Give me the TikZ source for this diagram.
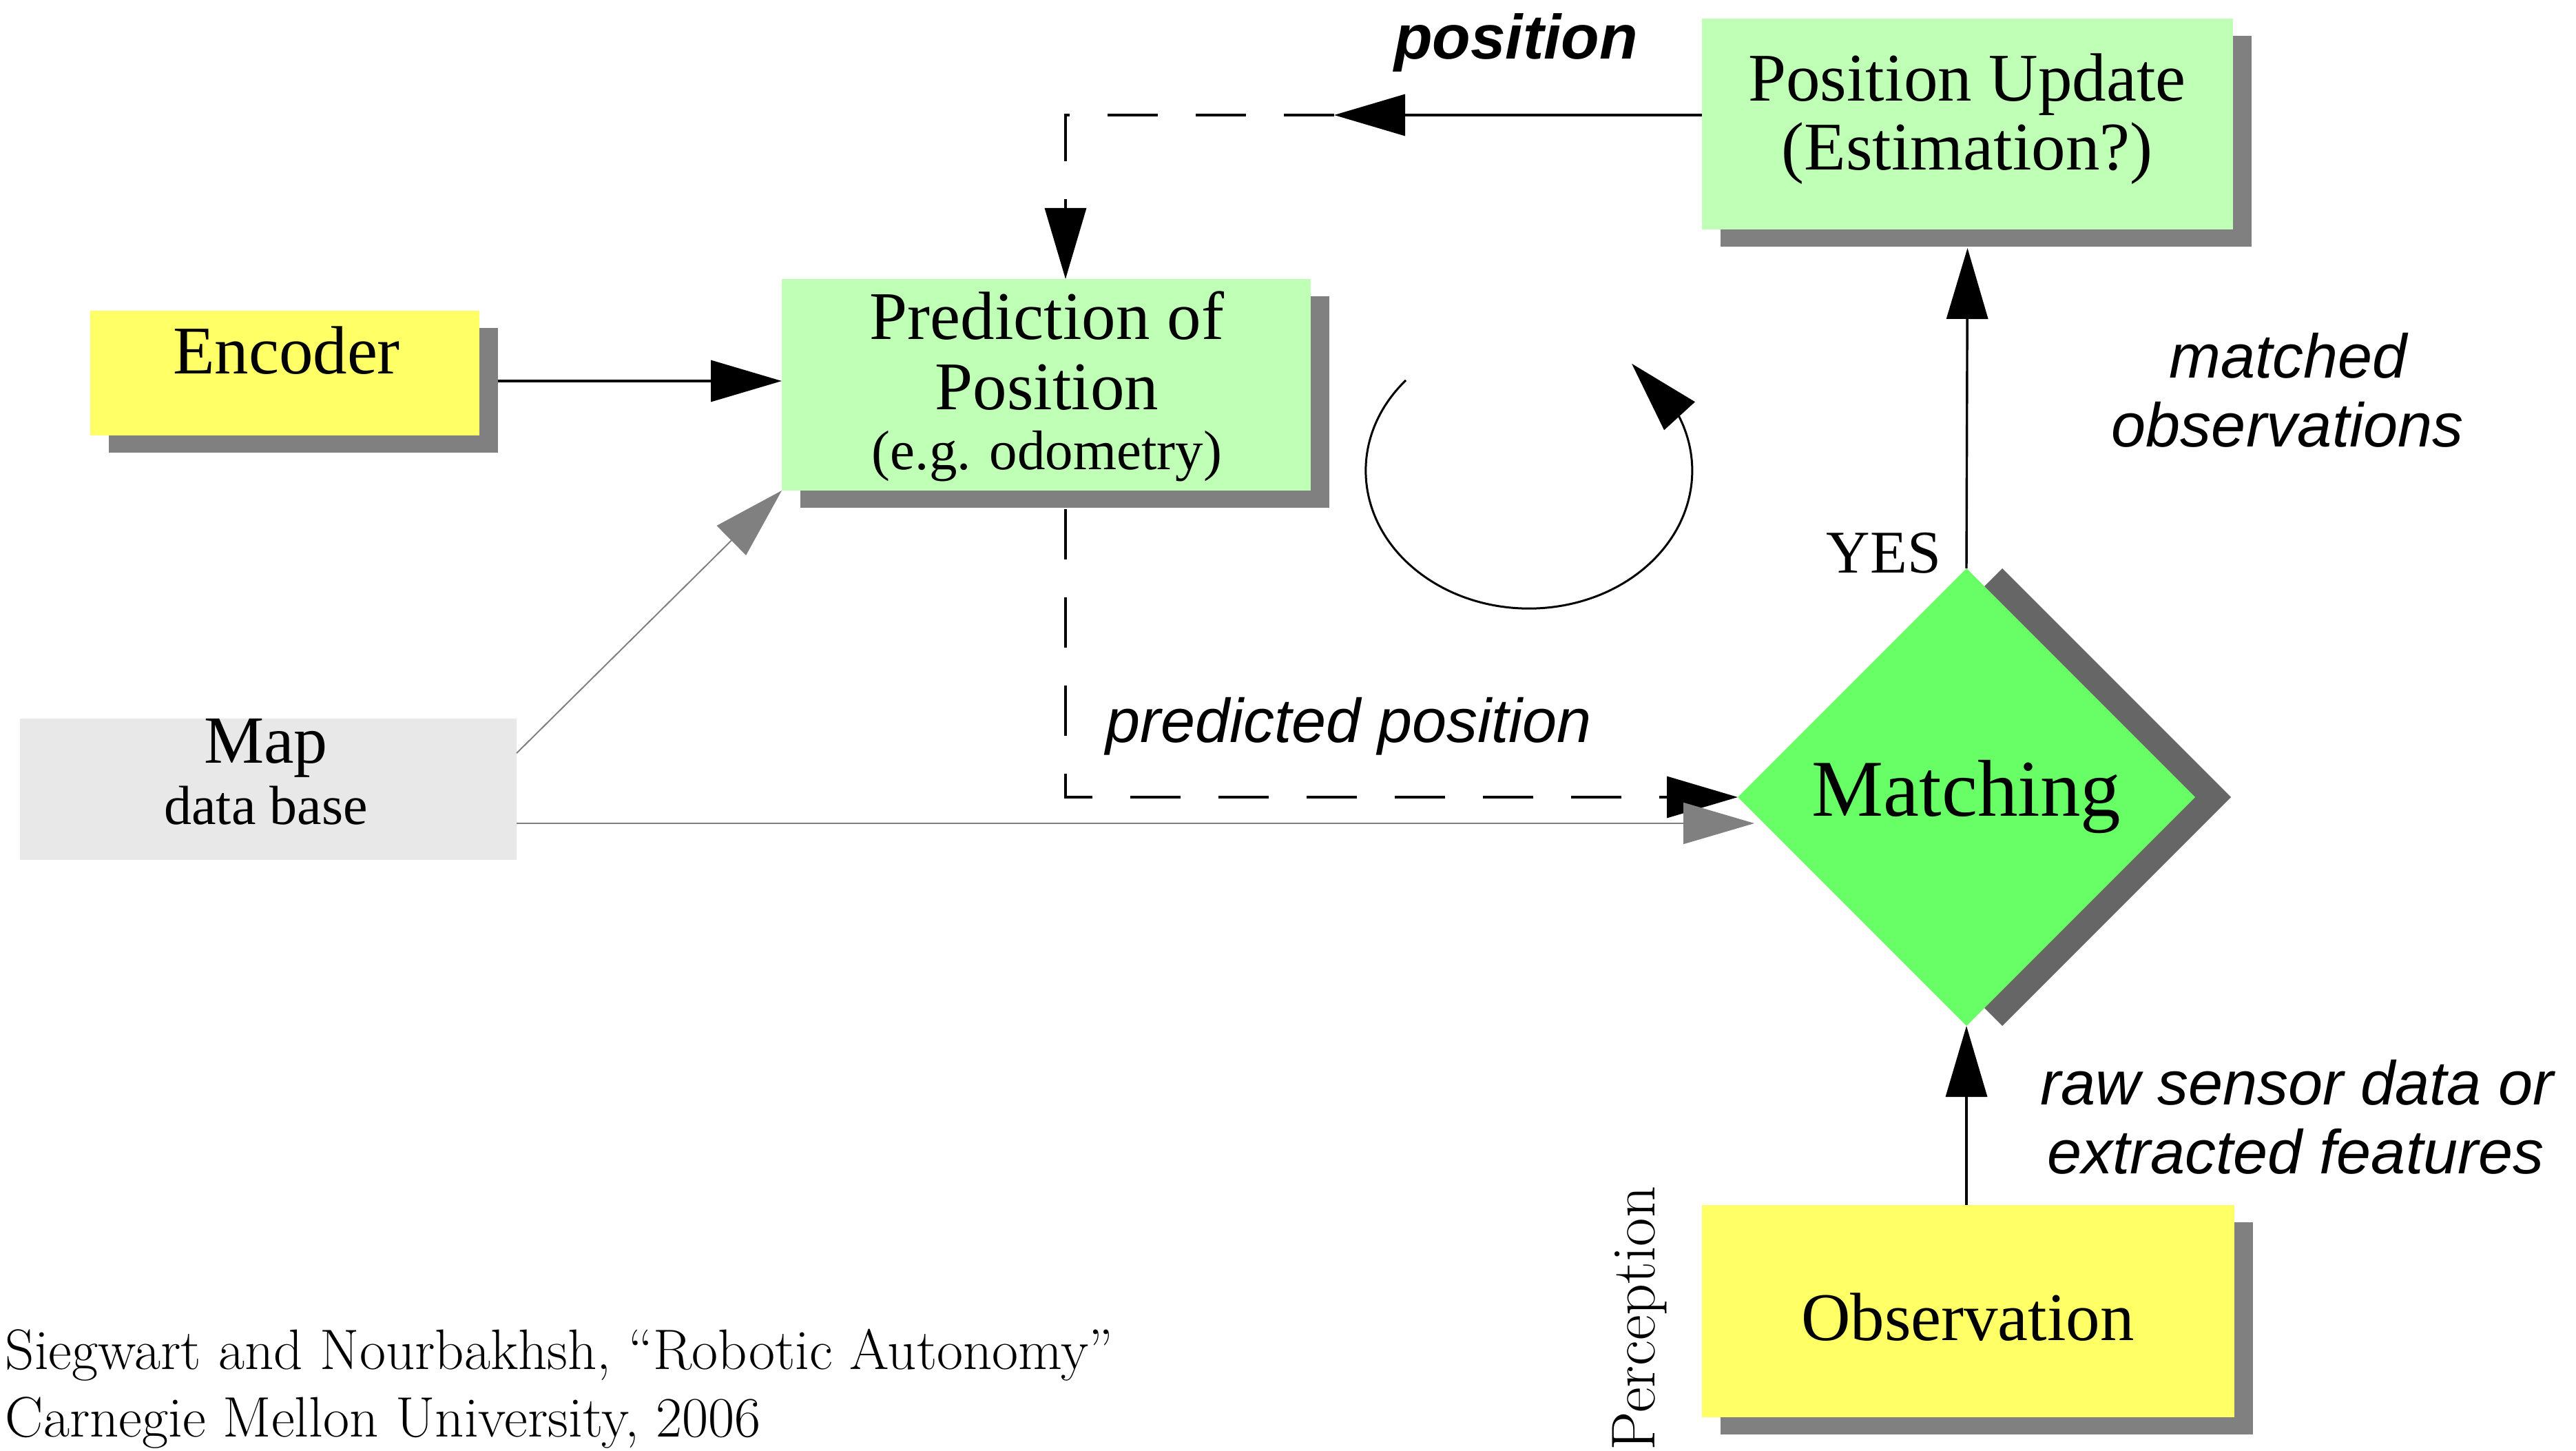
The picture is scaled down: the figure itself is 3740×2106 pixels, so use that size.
\documentclass[tikz,border=0pt]{standalone}
\usepackage{fontspec}
\newfontfamily\tms{Liberation Serif}
\newfontfamily\hsans{Liberation Sans}
\usetikzlibrary{arrows.meta,bending,shapes.geometric,shadows,calc}
\definecolor{boxgreen}{RGB}{191,255,182}
\definecolor{boxyellow}{RGB}{255,255,102}
\definecolor{matchgreen}{RGB}{104,255,102}
\definecolor{mapgray}{RGB}{232,232,232}
\definecolor{shadowgray}{RGB}{128,128,128}
\definecolor{dshadow}{RGB}{102,102,102}
\definecolor{arrowgray}{RGB}{128,128,128}
\begin{document}
\begin{tikzpicture}[x=0.25pt,y=-0.25pt,
  box/.style={rectangle, inner sep=0pt, outer sep=0pt,
    drop shadow={shadow xshift=6.75pt, shadow yshift=-6.25pt, fill=shadowgray, opacity=1}},
  greenbox/.style={box, fill=boxgreen},
  yellowbox/.style={box, fill=boxyellow},
  mapbox/.style={rectangle, inner sep=0pt, outer sep=0pt, fill=mapgray},
  matchnode/.style={diamond, aspect=1, inner sep=0pt, outer sep=0pt,
    minimum width=166pt, minimum height=166pt, fill=matchgreen,
    drop shadow={shadow xshift=13pt, shadow yshift=0pt, fill=dshadow, opacity=1},
    font=\tms\fontsize{29.25pt}{35pt}\selectfont},
  bigtxt/.style={inner sep=0pt, anchor=base, font=\tms\fontsize{24.75pt}{30pt}\selectfont},
  smalltxt/.style={inner sep=0pt, anchor=base, font=\tms\fontsize{20.25pt}{24pt}\selectfont},
  lbl/.style={inner sep=0pt, anchor=base, font=\hsans\itshape\fontsize{22.5pt}{27pt}\selectfont},
  captxt/.style={inner sep=0pt, anchor=base west, font=\fontsize{20.7pt}{24pt}\selectfont},
  conn/.style={line width=0.85pt, -{Triangle[length=25.75pt,width=15pt]}},
  grayconn/.style={draw=arrowgray, line width=0.5pt, -{Triangle[length=25.75pt,width=15pt]}},
  dashline/.style={dash pattern=on 18.25pt off 13.75pt},
  circarrow/.style={line width=0.75pt, -{Triangle[length=25.75pt,width=15pt,flex]}}
]
\useasboundingbox (0,0) rectangle (3740,2106);

% boxes
\node[yellowbox, minimum width=141.25pt, minimum height=45.25pt] (enc) at (413.5,541.5) {};
\node[bigtxt] (enct) at (416,543) {Encoder};

\node[greenbox, minimum width=192pt, minimum height=76.75pt] (pred) at (1519,558.5) {};
\node[bigtxt] (predt1) at (1520,493) {Prediction of};
\node[bigtxt] (predt2) at (1520,595) {Position};
\node[smalltxt] (predt3) at (1520,682) {(e.g. odometry)};

\node[greenbox, minimum width=192.75pt, minimum height=76.5pt] (pu) at (2856.5,180) {};
\node[bigtxt] (put1) at (2856,147) {Position Update};
\node[bigtxt] (put2) at (2856,247) {(Estimation?)};

\node[mapbox, minimum width=180.25pt, minimum height=51.25pt] (map) at (389.5,1145.5) {};
\node[bigtxt, font=\tms\fontsize{24.5pt}{30pt}\selectfont] (mapt1) at (386,1108) {Map};
\node[smalltxt, font=\tms\fontsize{20pt}{24pt}\selectfont] (mapt2) at (386,1197) {data base};

\node[matchnode] (match) at (2855,1157) {Matching};

\node[yellowbox, minimum width=193.25pt, minimum height=77pt] (obs) at (2857.5,1903) {};
\node[bigtxt] (obst) at (2857,1945) {Observation};

\node[inner sep=0pt, anchor=base, font=\tms\fontsize{22pt}{26pt}\selectfont] (yes) at (2735,832) {YES};

% labels
\node[lbl, font=\hsans\bfseries\itshape\fontsize{22.75pt}{27pt}\selectfont] (poslbl) at (2201,86) {position};
\node[lbl] (m1) at (3322,549) {matched};
\node[lbl] (m2) at (3321,649) {observations};
\node[lbl] (pp) at (1958,1078) {predicted position};
\node[lbl] (r1) at (3335,1603) {raw sensor data or};
\node[lbl] (r2) at (3333,1703) {extracted features};

\node[inner sep=0pt, anchor=base west, rotate=90, font=\fontsize{22.5pt}{26pt}\selectfont] (perc) at (2402,2106) {Perception};

\node[captxt] (cap1) at (7,1987) {Siegwart and Nourbakhsh, “Robotic Autonomy”};
\node[captxt] (cap2) at (7,2085) {Carnegie Mellon University, 2006};

% connectors
\coordinate (ptip) at (1937,167);
\coordinate (pcorner) at (1547,167);
\coordinate (encrow) at (0,553);
\coordinate (mend) at ($(match.west)+(24,38)$);
\coordinate (cstart) at (2041,552);

\draw[conn] (pu.west |- ptip) -- (ptip);
\draw[conn, dashline] (ptip) -- (pcorner) -- (pcorner |- pred.north);
\draw[conn] ($(enc.east |- encrow)+(27,0)$) -- (pred.west |- encrow);
\draw[conn, dashline] ($(pcorner |- pred.south)+(0,27)$) |- (match.west);
\draw[conn] (match.north) -- ($(pu.south)+(0,27)$);
\draw[conn] (match.south |- obs.north) -- (match.south);
\draw[grayconn] ($(map.north east)!0.245!(map.south east)$) -- (pred.south west);
\draw[grayconn] (map.east |- mend) -- (mend);
\draw[circarrow] (cstart) arc[start angle=139, end angle=411, x radius=59.25pt, y radius=50pt];
\end{tikzpicture}
\end{document}
